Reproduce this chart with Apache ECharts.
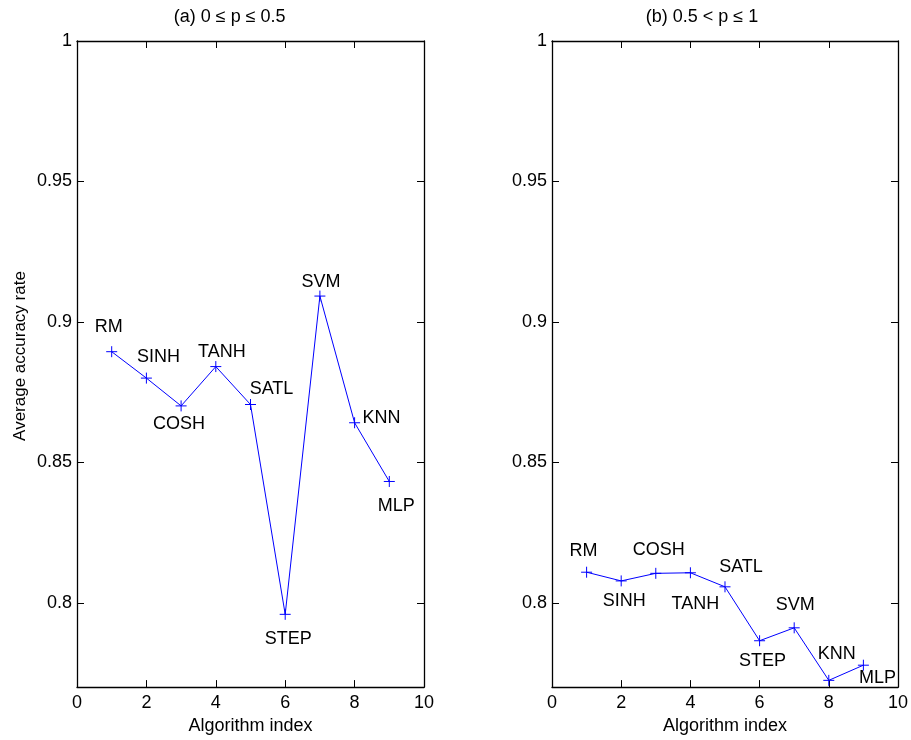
<!DOCTYPE html>
<html>
<head>
<meta charset="utf-8">
<script src="https://cdn.jsdelivr.net/npm/echarts@6/dist/echarts.min.js"></script>
<style>html,body{margin:0;padding:0;background:#fff;}#c{width:911px;height:740px;}</style>
</head>
<body>
<div id="c"></div>
<script>
// ---- data ----
const algIndex = [1, 2, 3, 4, 5, 6, 7, 8, 9];
const algNames = ['RM', 'SINH', 'COSH', 'TANH', 'SATL', 'STEP', 'SVM', 'KNN', 'MLP'];
const accLow  = [0.8894, 0.8800, 0.8701, 0.8841, 0.8706, 0.7959, 0.9092, 0.8641, 0.8432];
const accHigh = [0.8109, 0.8078, 0.8105, 0.8107, 0.8057, 0.7865, 0.7911, 0.7724, 0.7778];
const xTicks = [0, 2, 4, 6, 8, 10];
const yTicks = [0.8, 0.85, 0.9, 0.95, 1];
const titles = ['(a) 0 \u2264 p \u2264 0.5', '(b) 0.5 < p \u2264 1'];
const xName = 'Algorithm index';
const yName = 'Average accuracy rate';

// ---- label placement (layout only) ----
const labelOffsetsLow  = [[-3,-25],[12,-21],[-2,18],[6,-15],[21,-15],[3,25],[1,-14],[27,-5],[7,25]];
const labelOffsetsHigh = [[-3,-21],[3,20],[3,-23],[5,31],[16,-20],[3,20],[1,-23],[8,-26],[14,13]];

const FONT = 'Liberation Sans, Arial, Helvetica, sans-serif';
const FS = 18;

function buildData(vals, offs) {
  return algIndex.map((x, i) => ({
    value: [x, vals[i]],
    label: { show: true, formatter: algNames[i], position: 'inside', offset: offs[i] }
  }));
}

const grids = [
  { left: 77, top: 41, width: 347, height: 648 },
  { left: 552, top: 41, width: 348, height: 649 }
];

const xAxes = [], yAxes = [];
grids.forEach((g, gi) => {
  xAxes.push({
    type: 'value', gridIndex: gi, position: 'bottom', min: 0, max: 10, interval: 2,
    name: xName, nameLocation: 'middle', nameGap: 29,
    nameTextStyle: { color: '#000', fontSize: FS, fontFamily: FONT },
    axisLine: { show: true, onZero: false, lineStyle: { color: '#000', width: 1.3 } },
    axisTick: { show: true, inside: true, length: 7, lineStyle: { color: '#000' }, customValues: xTicks },
    axisLabel: { color: '#000', fontSize: FS, fontFamily: FONT, margin: 7, customValues: xTicks },
    splitLine: { show: false }
  });
  xAxes.push({
    type: 'value', gridIndex: gi, position: 'top', min: 0, max: 10, interval: 2,
    axisLine: { show: true, onZero: false, lineStyle: { color: '#000', width: 1.3 } },
    axisTick: { show: true, inside: true, length: 7, lineStyle: { color: '#000' }, customValues: xTicks },
    axisLabel: { show: false },
    splitLine: { show: false }
  });
  yAxes.push({
    type: 'value', gridIndex: gi, position: 'left', min: 0.77, max: 1,
    axisLine: { show: true, onZero: false, lineStyle: { color: '#000', width: 1.3 } },
    axisTick: { show: true, inside: true, length: 7, lineStyle: { color: '#000' }, customValues: yTicks },
    axisLabel: { color: '#000', fontSize: FS, fontFamily: FONT, margin: 5, customValues: yTicks,
      formatter: v => String(+v.toFixed(4)) },
    splitLine: { show: false }
  });
  yAxes.push({
    type: 'value', gridIndex: gi, position: 'right', min: 0.77, max: 1,
    axisLine: { show: true, onZero: false, lineStyle: { color: '#000', width: 1.3 } },
    axisTick: { show: true, inside: true, length: 7, lineStyle: { color: '#000' }, customValues: yTicks },
    axisLabel: { show: false },
    splitLine: { show: false }
  });
});

const plusSymbol = 'path://M0,5L10,5M5,0L5,10';
function series(vals, offs, gi) {
  return {
    type: 'line', xAxisIndex: gi * 2, yAxisIndex: gi * 2,
    data: buildData(vals, offs),
    symbol: plusSymbol, symbolSize: 11,
    lineStyle: { color: '#0000ff', width: 1 },
    itemStyle: { color: '#0000ff', borderColor: '#0000ff', borderWidth: 1 },
    label: { color: '#000', fontSize: FS, fontFamily: FONT, align: 'center', verticalAlign: 'middle' },
    emphasis: { disabled: true },
    silent: true
  };
}

const chart = echarts.init(document.getElementById('c'));
chart.setOption({
  animation: false,
  backgroundColor: '#fff',
  grid: grids,
  xAxis: xAxes,
  yAxis: yAxes,
  series: [series(accLow, labelOffsetsLow, 0), series(accHigh, labelOffsetsHigh, 1)],
  graphic: [
    { type: 'text', x: 229.7, y: 17, style: { text: titles[0], fill: '#000', font: FS + 'px ' + FONT, textAlign: 'center', textVerticalAlign: 'middle' } },
    { type: 'text', x: 702, y: 17, style: { text: titles[1], fill: '#000', font: FS + 'px ' + FONT, textAlign: 'center', textVerticalAlign: 'middle' } },
    { type: 'text', x: 20, y: 356, rotation: Math.PI / 2, style: { text: yName, fill: '#000', font: '17px ' + FONT, textAlign: 'center', textVerticalAlign: 'middle' } }
  ]
});
</script>
</body>
</html>
